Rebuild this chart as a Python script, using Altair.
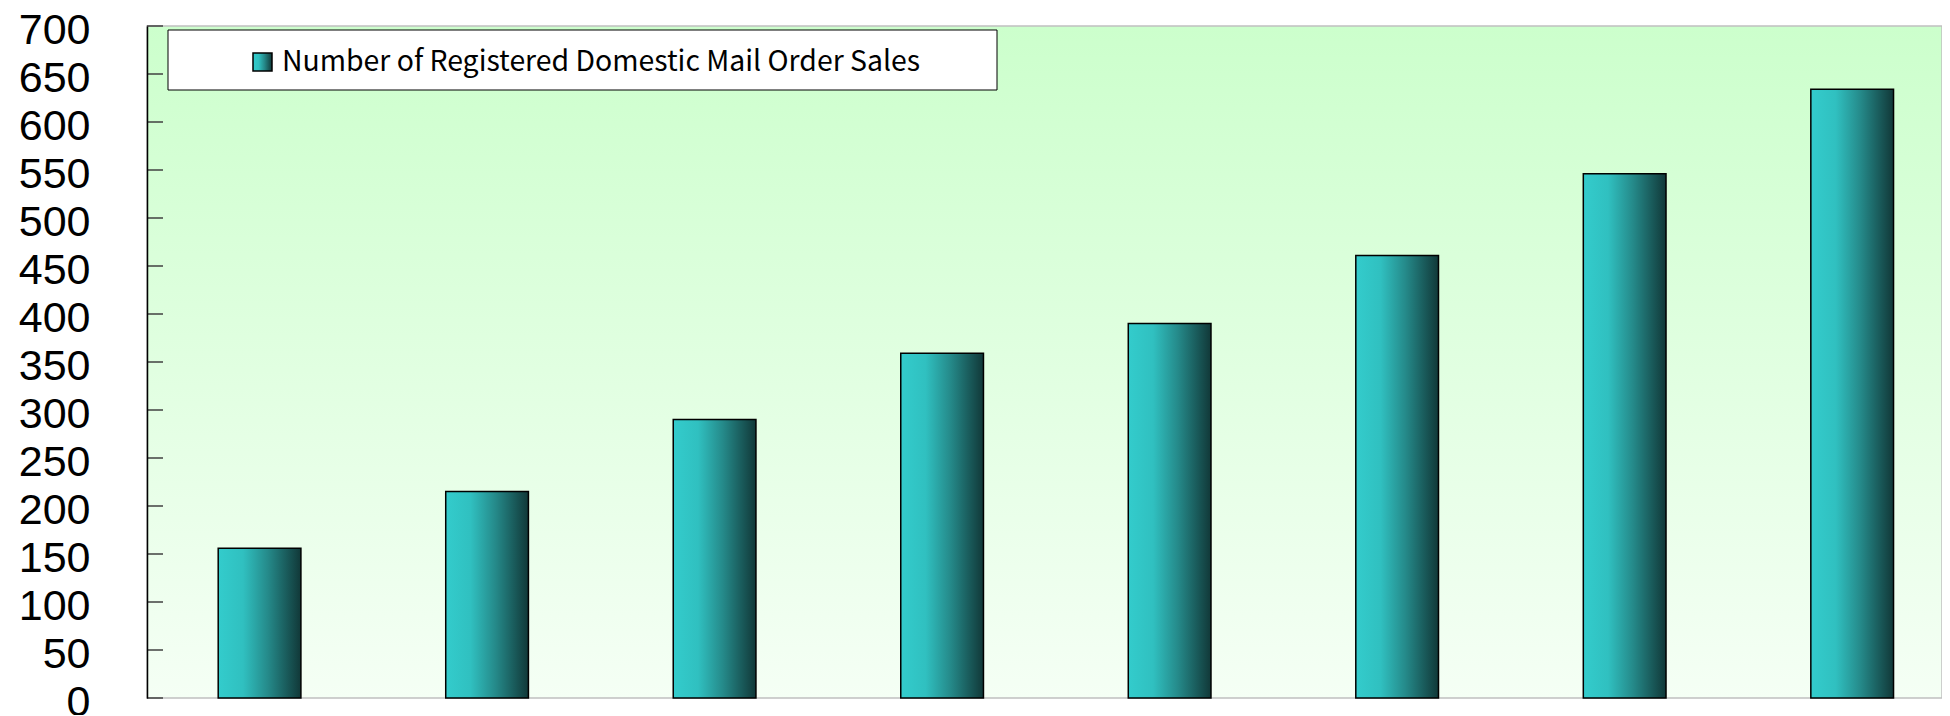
import altair as alt
import pandas as pd

# ---- data ----
categories = ["1", "2", "3", "4", "5", "6", "7", "8"]
values = [156, 215, 290, 359, 390, 461, 546, 634]
series_name = "Number of Registered Domestic Mail Order Sales"
y_ticks = list(range(0, 701, 50))

W = 1795
H = 672
FONT = "Noto Sans CJK JP"
AXIS_FONT = "Liberation Sans"

df = pd.DataFrame({"category": categories, "value": values})
ticks_df = pd.DataFrame({"value": y_ticks})
legend_df = pd.DataFrame({"series": [series_name]})
one = pd.DataFrame({"k": [0]})

bar_grad = alt.LinearGradient(
    gradient="linear", x1=0, x2=1, y1=0, y2=0,
    stops=[
        alt.GradientStop(color="#33cccc", offset=0),
        alt.GradientStop(color="#30c0c0", offset=0.3),
        alt.GradientStop(color="#258a8a", offset=0.6),
        alt.GradientStop(color="#113838", offset=1),
    ],
)
bg_grad = alt.LinearGradient(
    gradient="linear", x1=0, x2=0, y1=0, y2=1,
    stops=[
        alt.GradientStop(color="#ccffcc", offset=0),
        alt.GradientStop(color="#f5fff5", offset=1),
    ],
)

xscale = alt.Scale(domain=categories, paddingInner=0.6365, paddingOuter=0.263,
                   align=0.595, round=False)
yscale = alt.Scale(domain=[0, 700], nice=False, zero=True)
yaxis = alt.Axis(
    values=y_ticks, title=None, grid=False, tickSize=0,
    labelPadding=57, labelFontSize=43, labelFont=AXIS_FONT,
    labelColor="black", labelOverlap=False, labelBaseline="middle",
    labelBound=False, labelFlush=False, labelOffset=4,
    domainColor="black", domainWidth=1.5, zindex=1,
)

background = alt.Chart(one).mark_rect(
    fill=bg_grad, stroke="#c0c0c0", strokeWidth=1.5
).encode(x=alt.value(0), x2=alt.value(W), y=alt.value(0), y2=alt.value(H))

bars = alt.Chart(df).mark_bar(
    fill=bar_grad, stroke="black", strokeWidth=1.5
).encode(
    x=alt.X("category:N", scale=xscale, axis=None, sort=categories),
    y=alt.Y("value:Q", scale=yscale, axis=yaxis),
)

ticks = alt.Chart(ticks_df).mark_rule(color="#404040", strokeWidth=1.5).encode(
    y=alt.Y("value:Q", scale=yscale, axis=yaxis),
    x=alt.value(0), x2=alt.value(16),
)

legend_box = alt.Chart(one).mark_rect(
    fill="white", stroke="black", strokeWidth=1
).encode(x=alt.value(21), x2=alt.value(850), y=alt.value(4), y2=alt.value(64))

legend_symbol = alt.Chart(one).mark_rect(
    fill=bar_grad, stroke="black", strokeWidth=1.5
).encode(x=alt.value(106), x2=alt.value(125), y=alt.value(27), y2=alt.value(45))

legend_text = alt.Chart(legend_df).mark_text(
    align="left", baseline="middle", fontSize=28.4, font=FONT, color="black"
).encode(x=alt.value(135), y=alt.value(36), text="series:N")

chart = alt.layer(
    background, bars, ticks, legend_box, legend_symbol, legend_text
).properties(
    width=W, height=H,
    autosize=alt.AutoSizeParams(type="none"),
    padding={"left": 139, "top": 18, "right": 0, "bottom": 17},
).configure_view(strokeWidth=0)

chart.save("out.html", embed_options={"renderer": "svg", "actions": False})
